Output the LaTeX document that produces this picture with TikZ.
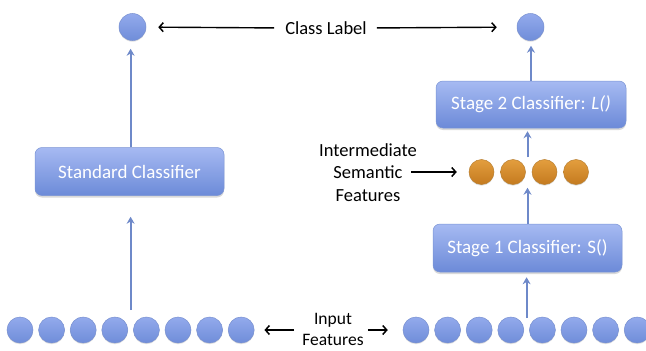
\documentclass[tikz,border=0pt]{standalone}
\usepackage{fontspec}
\setmainfont{Carlito}
\usetikzlibrary{arrows.meta,shadows,calc}
\definecolor{dotTop}{HTML}{93AAEC}
\definecolor{dotBot}{HTML}{6F8DD9}
\definecolor{dotEdge}{HTML}{7890D0}
\definecolor{boxTop}{HTML}{A6BAF2}
\definecolor{boxBot}{HTML}{6C8AD8}
\definecolor{boxEdge}{HTML}{7A94D4}
\definecolor{orTop}{HTML}{E39E3E}
\definecolor{orBot}{HTML}{C47A1F}
\definecolor{orEdge}{HTML}{B98032}
\definecolor{arrBlue}{HTML}{6E89C9}
\tikzset{
  bluedot/.style={circle, minimum size=26pt, inner sep=0pt, top color=dotTop, bottom color=dotBot, draw=dotEdge, line width=0.5pt,
    drop shadow={opacity=0.25, shadow xshift=0pt, shadow yshift=-1.2pt}},
  orangedot/.style={circle, minimum size=25pt, inner sep=0pt, top color=orTop, bottom color=orBot, draw=orEdge, line width=0.5pt,
    drop shadow={opacity=0.25, shadow xshift=0pt, shadow yshift=-1.2pt}},
  classbox/.style={rounded corners=7pt, minimum width=189pt, minimum height=48pt, inner sep=0pt,
    top color=boxTop, bottom color=boxBot, draw=boxEdge, line width=0.5pt, text=white,
    font=\fontsize{19}{21}\selectfont,
    drop shadow={opacity=0.3, shadow xshift=0pt, shadow yshift=-2pt}},
  lbl/.style={inner sep=0pt, align=center, text=black, font=\fontsize{18.5}{22.5}\selectfont},
  blk/.style={draw=black, line width=1.4pt, -{Straight Barb[length=4pt,width=9pt,line width=1.5pt]}},
  bl/.style={draw=arrBlue, line width=2pt, -{Stealth[length=7pt,width=8pt]}},
}
\begin{document}
\begin{tikzpicture}[x=1pt,y=-1pt]
\useasboundingbox (0,0) rectangle (646,351);
% top circles
\node[bluedot, minimum size=27pt] (tl) at (132.5,27) {};
\node[bluedot, minimum size=27pt] (tr) at (530.5,27) {};
\node[lbl] (cl) at (326,28) {Class Label};
% boxes
\node[classbox] (sc) at (129.5,171.5) {Standard Classifier};
\node[classbox, minimum width=190pt, minimum height=47pt] (s2) at (531,104.5) {Stage 2 Classifier: \textit{L()}};
\node[classbox] (s1) at (527.5,248) {Stage 1 Classifier: S()};
% orange dots
\foreach \i/\x in {1/481.5,2/513,3/544.5,4/576}
  \node[orangedot] (o\i) at (\x,172) {};
\node[lbl] (ints) at (368,172.5) {Intermediate\\Semantic\\Features};
% bottom dots
\foreach \i in {1,...,8}
  \node[bluedot] (ld\i) at ({20+31.6*(\i-1)},330) {};
\foreach \i in {1,...,8}
  \node[bluedot] (rd\i) at ({416+31.6*(\i-1)},330) {};
\node[lbl, font=\fontsize{17.5}{21}\selectfont] (inp) at (333,329) {Input\\Features};
% coordinates
\coordinate (lm) at ($(ld4)!.5!(ld5)+(0,-20)$);
\coordinate (rm) at ($(rd4)!.5!(rd5)+(0,-12)$);
% black arrows
\draw[blk, shorten <=11pt, shorten >=12pt] (cl.west) -- (tl);
\draw[blk, shorten <=10pt, shorten >=20pt] (cl.east) -- (tr);
\draw[blk, shorten <=8pt, shorten >=10pt] (inp.west |- ld8) -- (ld8);
\draw[blk, shorten <=4pt, shorten >=15pt] (inp.east |- rd1) -- (rd1);
\draw[blk, shorten <=-6pt, shorten >=12pt] (ints.east |- o1) -- (o1);
% blue arrows
\draw[bl, shorten >=8pt] (sc.north -| lm) -- (lm |- tl.south);
\draw[bl, shorten >=21pt] (lm) -- (lm |- sc.south);
\draw[bl, shorten >=5pt] (rm) -- (rm |- s1.south);
\draw[bl, shorten >=3pt] (s1.north) -- (s1.north |- o2.south);
\draw[bl, shorten <=2pt, shorten >=3pt] (s1.north |- o2.north) -- (s1.north |- s2.south);
\draw[bl, shorten >=5pt] (s2.north) -- (s2.north |- tr.south);
\end{tikzpicture}
\end{document}
